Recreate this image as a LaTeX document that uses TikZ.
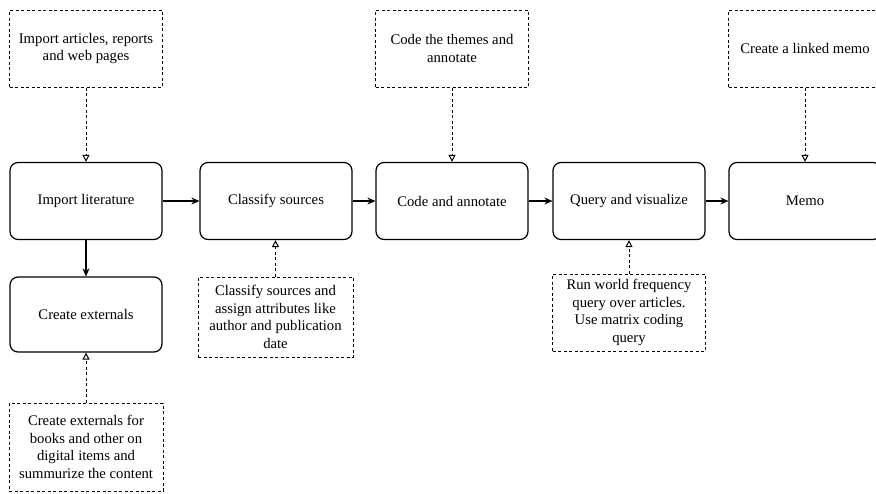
\documentclass[tikz,border=0pt]{standalone}
\usepackage{fontspec}
\setmainfont{Liberation Serif}
\usetikzlibrary{arrows.meta}
\tikzset{
  mainbox/.style={draw, line width=1.2pt, rounded corners=8pt, minimum width=152pt, minimum height=77pt, align=center, font=\fontsize{14.7}{17.5}\selectfont, inner sep=0pt},
  notebox/.style={draw, line width=1pt, dash pattern=on 3pt off 2.5pt, minimum width=153pt, minimum height=77pt, align=center, font=\fontsize{14.7}{17.6}\selectfont, inner sep=0pt},
  flow/.style={line width=1.1pt, -{Stealth[length=8pt,width=7pt]}},
  hint/.style={line width=1pt, dash pattern=on 3pt off 2.5pt, -{Triangle[open,length=7pt,width=7pt]}}
}
\begin{document}
\begin{tikzpicture}[x=1pt,y=-1pt]
\clip (0,0) rectangle (876,493);
\fill[white] (0,0) rectangle (876,493);
% main boxes
\node[mainbox] (imp) at (86,201) {Import literature};
\node[mainbox] (cls) at (276,201) {Classify sources};
\node[mainbox] (code) at (452,201) {Code and annotate};
\node[mainbox] (qry) at (629,201) {Query and visualize};
\node[mainbox] (memo) at (805,201) {Memo};
\node[mainbox, minimum height=75pt] (ext) at (86,314.5) {Create externals};
% note boxes
\node[notebox] (n1) at (86,48.5) {Import articles, reports\\and web pages};
\node[notebox] (n2) at (452,48.5) {Code the themes and\\annotate};
\node[notebox] (n3) at (805,48.5) {Create a linked memo};
\node[notebox, minimum width=155pt, minimum height=80pt] (n4) at (275.5,317) {Classify sources and\\assign attributes like\\author and publication\\date};
\node[notebox, minimum height=77pt] (n5) at (629,312.5) {Run world frequency\\query over articles.\\Use matrix coding\\query};
\node[notebox, minimum width=154pt, minimum height=88pt] (n6) at (86,447) {Create externals for\\books and other on\\digital items and\\summurize the content};
% flow arrows
\draw[flow] (imp) -- (cls);
\draw[flow] (cls) -- (code);
\draw[flow] (code) -- (qry);
\draw[flow] (qry) -- (memo);
\draw[flow] (imp) -- (ext);
% hint arrows
\draw[hint] (n1) -- (imp);
\draw[hint] (n2) -- (code);
\draw[hint] (n3) -- (memo);
\draw[hint] (n4.north) -- (cls.south -| n4.north);
\draw[hint] (n5) -- (qry);
\draw[hint] (n6) -- (ext);
\end{tikzpicture}
\end{document}
